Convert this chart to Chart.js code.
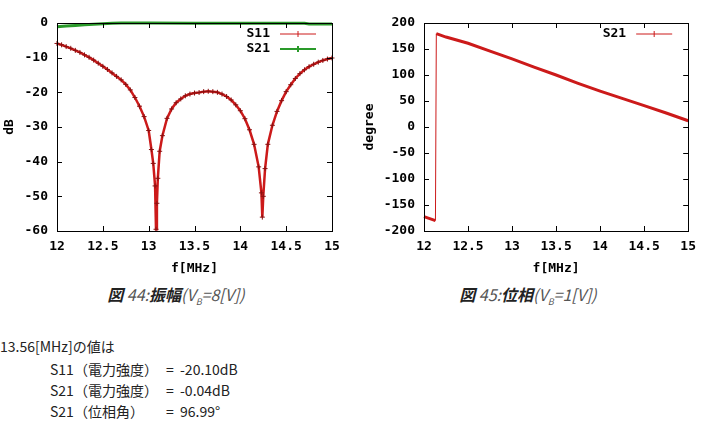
<!DOCTYPE html>
<html>
<head>
<meta charset="utf-8">
<script src="https://cdn.jsdelivr.net/npm/chart.js@4.4.1/dist/chart.umd.min.js"></script>
<style>
  body { margin: 0; background: #fff; width: 704px; height: 436px; position: relative; overflow: hidden;
         font-family: "Noto Sans CJK JP", sans-serif; color: #222; }
  .plot { position: absolute; top: 0; width: 352px; height: 280px; }
  .cap { position: absolute; top: 282px; width: 352px; text-align: center; font-size: 16px;
         font-style: italic; color: #555; white-space: pre; }
  .cap b { color: #222; }
  .cap sub { font-size: 9px; }
  .line { position: absolute; font-size: 14px; white-space: pre; line-height: 20px; }
</style>
</head>
<body>
<div class="plot" style="left:0"><canvas id="amp" width="352" height="280"></canvas></div>
<div class="plot" style="left:352px"><canvas id="phase" width="352" height="280"></canvas></div>

<div class="cap" style="left:0"><b>図</b> 44:<b>振幅</b>(V<sub>B</sub>=8[V])</div>
<div class="cap" style="left:352px"><b>図</b> 45:<b>位相</b>(V<sub>B</sub>=1[V])</div>

<div class="line" style="left:0;top:336px">13.56[MHz]の値は</div>
<div class="line" style="left:50px;top:359px">S11（電力強度）</div>
<div class="line" style="left:166px;top:359px">=</div>
<div class="line" style="left:180px;top:359px">-20.10dB</div>
<div class="line" style="left:50px;top:380px">S21（電力強度）</div>
<div class="line" style="left:166px;top:380px">=</div>
<div class="line" style="left:180px;top:380px">-0.04dB</div>
<div class="line" style="left:50px;top:401px">S21（位相角）</div>
<div class="line" style="left:166px;top:401px">=</div>
<div class="line" style="left:180px;top:401px">96.99°</div>

<script>
// amplitude plot, frequencies in MHz
const ampFreq = [12.00, 12.05, 12.10, 12.15, 12.20, 12.25, 12.30, 12.35, 12.40, 12.45,
  12.50, 12.55, 12.60, 12.65, 12.70, 12.75, 12.80, 12.85, 12.90, 12.95,
  13.00, 13.03, 13.05, 13.07, 13.08, 13.09, 13.10, 13.12, 13.15, 13.20,
  13.25, 13.30, 13.35, 13.40, 13.45, 13.50, 13.55, 13.60, 13.65, 13.70,
  13.75, 13.80, 13.85, 13.90, 13.95, 14.00, 14.05, 14.10, 14.15, 14.20,
  14.23, 14.24, 14.25, 14.27, 14.30, 14.35, 14.40, 14.45, 14.50, 14.55,
  14.60, 14.65, 14.70, 14.75, 14.80, 14.85, 14.90, 14.95, 15.00];
const s11Db = [-5.9, -6.3, -6.8, -7.3, -7.9, -8.5, -9.2, -9.9, -10.7, -11.6,
  -12.5, -13.4, -14.4, -15.4, -16.4, -17.7, -19.3, -21.5, -24.0, -27.0,
  -31.0, -36.5, -40.5, -47.0, -59.5, -52.0, -44.8, -37.0, -32.5, -27.5,
  -24.8, -23.0, -21.9, -21.0, -20.5, -20.2, -20.05, -19.8, -19.7, -19.8,
  -20.0, -20.5, -21.2, -22.2, -23.6, -25.3, -27.6, -30.8, -35.0, -41.5,
  -49.0, -56.0, -50.0, -42.0, -35.0, -29.5, -25.5, -22.4, -19.8, -17.8,
  -16.0, -14.6, -13.5, -12.6, -11.9, -11.3, -10.8, -10.4, -10.1];

const s21Freq = [12.0, 12.1, 12.2, 12.3, 12.4, 12.5, 12.6, 12.7, 13.0, 13.5, 14.0, 14.5, 14.7, 14.75, 15.0];
const s21Db = [-1.1, -0.9, -0.7, -0.5, -0.35, -0.2, -0.1, -0.02, -0.02, -0.04, -0.04, -0.05, -0.05, -0.3, -0.3];

// phase plot
const phaseFreq = [12.0, 12.13, 12.14, 12.25, 12.5, 12.75, 13.0, 13.25, 13.5, 13.75, 14.0, 14.25, 14.5, 14.75, 15.0];
const phaseDeg = [-172.5, -180, 179.6, 173, 161, 146, 131, 115, 100, 84, 69, 55, 41, 27, 12];

const tickFont = { family: '"DejaVu Sans Mono", monospace', size: 13, weight: 'bold' };
const RED = '#cc1a1a';
const GREEN = '#2a9a2a';

function pairs(xs, ys) {
  return xs.map((x, i) => ({ x, y: ys[i] }));
}

// gnuplot style frame: box plus inward ticks on all four sides
const frameTicks = {
  id: 'frameTicks',
  afterDraw(chart) {
    const { ctx, chartArea: a, scales } = chart;
    const len = 5;
    ctx.save();
    ctx.strokeStyle = '#000';
    ctx.lineWidth = 1;
    ctx.beginPath();
    scales.x.ticks.forEach(t => {
      const px = Math.round(scales.x.getPixelForValue(t.value)) + 0.5;
      ctx.moveTo(px, a.bottom); ctx.lineTo(px, a.bottom - len);
      ctx.moveTo(px, a.top); ctx.lineTo(px, a.top + len);
    });
    scales.y.ticks.forEach(t => {
      const py = Math.round(scales.y.getPixelForValue(t.value)) + 0.5;
      ctx.moveTo(a.left, py); ctx.lineTo(a.left + len, py);
      ctx.moveTo(a.right, py); ctx.lineTo(a.right - len, py);
    });
    ctx.stroke();
    ctx.strokeRect(Math.round(a.left) + 0.5, Math.round(a.top) + 0.5,
      Math.round(a.right - a.left), Math.round(a.bottom - a.top));
    ctx.restore();
  }
};

// key in the top right corner: label, then a line sample with a cross
const keyBox = {
  id: 'keyBox',
  afterDraw(chart) {
    const { ctx, chartArea: a } = chart;
    ctx.save();
    ctx.font = 'bold 13px "DejaVu Sans Mono", monospace';
    ctx.textAlign = 'right';
    ctx.textBaseline = 'middle';
    chart.data.datasets.forEach((ds, i) => {
      const y = a.top + 11 + i * 15;
      const x1 = a.right - 52;
      const x2 = a.right - 16;
      ctx.fillStyle = '#000';
      ctx.fillText(ds.label, x1 - 10, y);
      ctx.strokeStyle = ds.borderColor;
      ctx.lineWidth = ds.keyWidth;
      ctx.beginPath();
      ctx.moveTo(x1, y); ctx.lineTo(x2, y);
      const cx = (x1 + x2) / 2;
      ctx.moveTo(cx, y - 3); ctx.lineTo(cx, y + 3);
      ctx.stroke();
    });
    ctx.restore();
  }
};

function options(yMin, yMax, yStep, yTitle, yWidth, yTitlePad, padRight) {
  return {
    responsive: false,
    animation: false,
    devicePixelRatio: 1,
    layout: { padding: { top: 23, right: padRight, left: 0, bottom: 0 } },
    plugins: { legend: { display: false }, tooltip: { enabled: false } },
    scales: {
      x: {
        type: 'linear', min: 12, max: 15,
        ticks: { stepSize: 0.5, padding: 8, color: '#000', font: tickFont, maxRotation: 0,
                 callback: v => String(v) },
        grid: { display: false, drawTicks: false },
        border: { display: false },
        title: { display: true, text: 'f[MHz]', color: '#000', font: tickFont, padding: { top: 0, bottom: 4 } },
        afterFit(s) { s.height = 49; }
      },
      y: {
        min: yMin, max: yMax,
        ticks: { stepSize: yStep, padding: 9, color: '#000', font: tickFont },
        grid: { display: false, drawTicks: false },
        border: { display: false },
        title: { display: true, text: yTitle, color: '#000', font: tickFont, padding: { top: yTitlePad, bottom: 0 } },
        afterFit(s) { s.width = yWidth; }
      }
    }
  };
}

new Chart(document.getElementById('amp'), {
  type: 'line',
  data: {
    datasets: [
      {
        label: 'S11',
        data: pairs(ampFreq, s11Db),
        borderColor: RED,
        borderWidth: 2.5,
        pointStyle: 'cross',
        pointRadius: 2.5,
        pointBorderWidth: 1,
        pointBorderColor: '#8a1010',
        keyWidth: 1,
        clip: 3
      },
      {
        label: 'S21',
        data: pairs(s21Freq, s21Db),
        borderColor: GREEN,
        borderWidth: 3,
        pointRadius: 0,
        keyWidth: 2,
        clip: 3
      }
    ]
  },
  options: options(-60, 0, 10, 'dB', 57, 2, 20),
  plugins: [frameTicks, keyBox]
});

new Chart(document.getElementById('phase'), {
  type: 'line',
  data: {
    datasets: [
      {
        label: 'S21',
        data: pairs(phaseFreq, phaseDeg),
        borderColor: RED,
        borderWidth: 3,
        pointRadius: 0,
        keyWidth: 1,
        clip: 3,
        // the wrap from -180 to +180 is drawn as a thin connector
        segment: {
          borderWidth: c => (c.p0.parsed.y < 0 && c.p1.parsed.y > 0 ? 1 : 3)
        }
      }
    ]
  },
  options: options(-200, 200, 50, 'degree', 72, 10, 13),
  plugins: [frameTicks, keyBox]
});
</script>
</body>
</html>
